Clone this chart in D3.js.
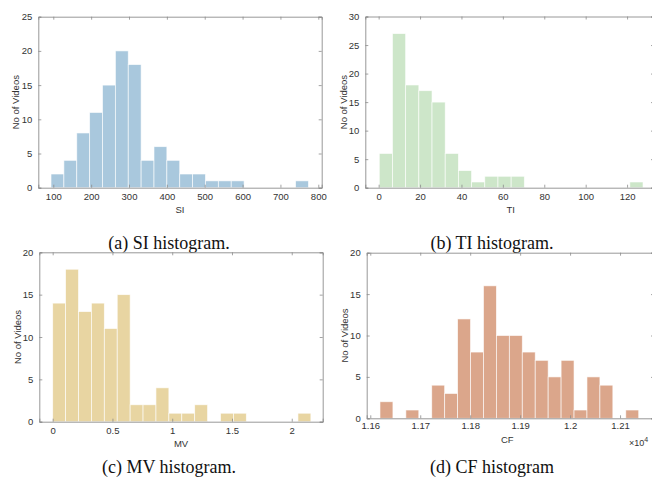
<!DOCTYPE html>
<html>
<head>
<meta charset="utf-8">
<script src="https://cdn.jsdelivr.net/npm/d3@7"></script>
<style>
  body { margin: 0; background: #fff; }
  svg { display: block; }
  .tick text, .axis-label { font-family: "Liberation Sans", Arial, sans-serif; fill: #333; }
  .caption { font-family: "Liberation Serif", "Times New Roman", serif; fill: #111; }
</style>
</head>
<body>
<script>
// Histogram counts (20 bins each)
var siCounts = [2, 4, 8, 11, 15, 20, 18, 4, 6, 4, 2, 2, 1, 1, 1, 0, 0, 0, 0, 1];
var siEdges = [94, 34];          // first edge, bin width
var siTicks = [100, 200, 300, 400, 500, 600, 700, 800];

var tiCounts = [6, 27, 18, 17, 15, 6, 3, 1, 2, 2, 2, 0, 0, 0, 0, 0, 0, 0, 0, 1];
var tiEdges = [0.3, 6.37];
var tiTicks = [0, 20, 40, 60, 80, 100, 120];

var mvCounts = [14, 18, 13, 14, 11, 15, 2, 2, 4, 1, 1, 2, 0, 1, 1, 0, 0, 0, 0, 1];
var mvEdges = [0, 0.108];
var mvTicks = [0, 0.5, 1, 1.5, 2];

var cfCounts = [2, 0, 1, 0, 4, 3, 12, 8, 16, 10, 10, 8, 7, 5, 7, 1, 5, 4, 0, 1];
var cfEdges = [11619.4, 25.9];
var cfTicks = [11600, 11700, 11800, 11900, 12000, 12100];

var svg = d3.select("body").append("svg")
    .attr("width", 652)
    .attr("height", 483);

// one panel per histogram
function panel(o) {
  var x = d3.scaleLinear().domain(o.xdom).range([o.left, o.right]);
  var y = d3.scaleLinear().domain([0, o.ymax]).range([o.bottom, o.top]);
  var g = svg.append("g");

  var bins = o.counts.map(function(c, i) {
    return { x0: o.edges[0] + i * o.edges[1], x1: o.edges[0] + (i + 1) * o.edges[1], n: c };
  }).filter(function(b) { return b.n > 0; });

  g.selectAll("rect")
    .data(bins)
    .enter().append("rect")
      .attr("x", function(d) { return x(d.x0); })
      .attr("width", function(d) { return x(d.x1) - x(d.x0); })
      .attr("y", function(d) { return y(d.n); })
      .attr("height", function(d) { return y(0) - y(d.n); })
      .attr("fill", o.color)
      .attr("stroke", "#fff")
      .attr("stroke-opacity", 0.75)
      .attr("stroke-width", 0.8);

  var yTicks = d3.range(0, o.ymax + 1, 5);

  // bottom / left axes with labels, ticks pointing inward
  var xa = g.append("g").attr("transform", "translate(0," + o.bottom + ")")
    .call(d3.axisBottom(x).tickValues(o.ticks).tickSize(-3).tickPadding(o.xpad).tickFormat(o.fmt || d3.format("~g")));
  var ya = g.append("g").attr("transform", "translate(" + o.left + ",0)")
    .call(d3.axisLeft(y).tickValues(yTicks).tickSize(-3).tickPadding(6));
  // mirrored top / right ticks
  var xt = g.append("g").attr("transform", "translate(0," + o.top + ")")
    .call(d3.axisTop(x).tickValues(o.ticks).tickSize(-3).tickFormat(""));
  var yr = g.append("g").attr("transform", "translate(" + o.right + ",0)")
    .call(d3.axisRight(y).tickValues(yTicks).tickSize(-3).tickFormat(""));

  [xa, ya, xt, yr].forEach(function(a) {
    a.select(".domain").attr("stroke", "#8c8c8c").attr("stroke-width", 0.9);
    a.selectAll(".tick line").attr("stroke", "#8c8c8c").attr("stroke-width", 0.8);
    a.selectAll(".tick text").style("font-size", "9.5px");
  });

  g.append("text").attr("class", "axis-label")
    .attr("x", (o.left + Math.min(o.right, 652)) / 2 + (o.xlabDx || 0))
    .attr("y", o.xlabY)
    .attr("text-anchor", "middle")
    .style("font-size", "9.5px")
    .text(o.xlabel);

  g.append("text").attr("class", "axis-label")
    .attr("transform", "translate(" + o.ylabX + "," + (o.top + o.bottom) / 2 + ") rotate(-90)")
    .attr("text-anchor", "middle")
    .style("font-size", "9.5px")
    .text("No of Videos");

  g.append("text").attr("class", "caption")
    .attr("x", o.capX)
    .attr("y", o.capY)
    .attr("text-anchor", "middle")
    .style("font-size", "18px")
    .text(o.caption);
  return x;
}

panel({ counts: siCounts, edges: siEdges, ticks: siTicks, xdom: [60.4, 809], ymax: 25,
  left: 38.3, right: 321.7, top: 16.7, bottom: 187.7, xpad: 6, color: "#a9c8dd",
  xlabel: "SI", xlabY: 213, ylabX: 19, caption: "(a) SI histogram.", capX: 169, capY: 248.5 });

panel({ counts: tiCounts, edges: tiEdges, ticks: tiTicks, xdom: [-6.45, 133], ymax: 30,
  left: 365.3, right: 654, top: 16.5, bottom: 187.7, xpad: 6, color: "#cde6c9",
  xlabel: "TI", xlabY: 213, xlabDx: 2, ylabX: 347, caption: "(b) TI histogram.", capX: 492, capY: 248.5 });

panel({ counts: mvCounts, edges: mvEdges, ticks: mvTicks, xdom: [-0.112, 2.259], ymax: 20,
  left: 39.3, right: 322.7, top: 252.3, bottom: 421.7, xpad: 6, color: "#e8d5a2",
  xlabel: "MV", xlabY: 447, ylabX: 20.5, caption: "(c) MV histogram.", capX: 169, capY: 472.5 });

panel({ counts: cfCounts, edges: cfEdges, ticks: cfTicks, xdom: [11592.8, 12168], ymax: 20,
  left: 366.7, right: 654, top: 252.7, bottom: 418.3, xpad: 4, color: "#dba68b",
  fmt: function(d) { return +(d / 1e4).toFixed(2); },
  xlabel: "CF", xlabY: 443, xlabDx: -2, ylabX: 348, caption: "(d) CF histogram", capX: 492, capY: 472.5 });

// exponent label of the CF axis
var expo = svg.append("text").attr("class", "axis-label")
  .attr("x", 629).attr("y", 446)
  .style("font-size", "9px");
expo.append("tspan").text("\u00d710");
expo.append("tspan").attr("dy", -4).style("font-size", "7px").text("4");
</script>
</body>
</html>
